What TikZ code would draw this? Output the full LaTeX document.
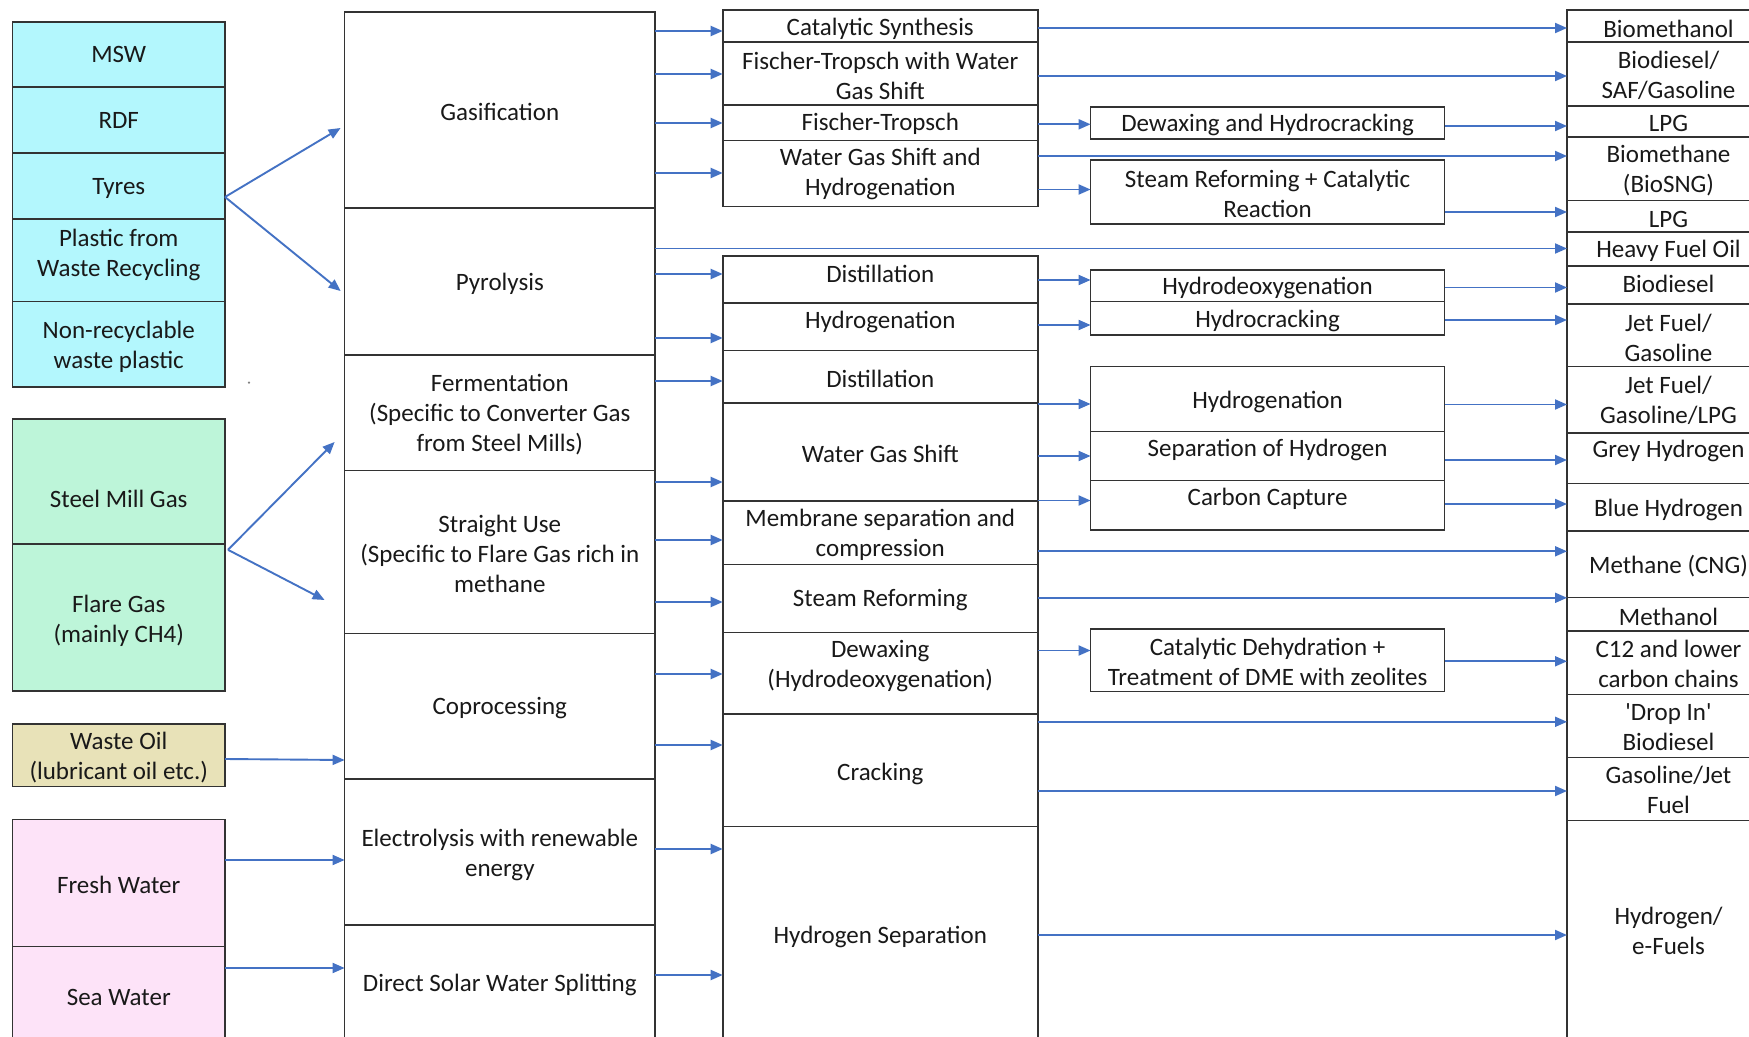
\documentclass[tikz,border=0pt]{standalone}
\usepackage{fontspec}
\setmainfont{Carlito}
\usetikzlibrary{arrows.meta,fit,calc}
\definecolor{cyanf}{HTML}{B3F7FD}
\definecolor{greenf}{HTML}{BDF5D9}
\definecolor{tanf}{HTML}{E8E2B8}
\definecolor{pinkf}{HTML}{FDE3F8}
\definecolor{arrblue}{HTML}{4472C4}
\definecolor{edgec}{HTML}{333333}
\tikzset{
 box/.style={draw=edgec, line width=0.8pt, inner sep=0pt, outer sep=0pt},
 txt/.style={align=center, inner sep=0pt, font=\fontsize{12.5}{15}\selectfont, text=black!90},
 arr/.style={draw=arrblue, line width=0.95pt, -{Triangle[length=6pt,width=5pt]}},
}
\newcommand\bx[8]{\node[box,#6,fit={(#2,#3)(#4,#5)}] (#1) {};\node[txt] at (#1.center |- 0,#7) {#8};}
\begin{document}
\begin{tikzpicture}[x=0.5pt,y=-0.5pt]
\clip (0,0) rectangle (1749,1037);
\fill[white] (0,0) rectangle (1749,1037);
% column 1
\bx{msw}{12.5}{22}{225}{87}{fill=cyanf}{54}{MSW}
\bx{rdf}{12.5}{87}{225}{153.3}{fill=cyanf}{120}{RDF}
\bx{tyres}{12.5}{153.3}{225}{219.3}{fill=cyanf}{188.5}{Tyres}
\bx{plastic}{12.5}{219.3}{225}{301.7}{fill=cyanf}{254.5}{Plastic from\\Waste Recycling}
\bx{nonrec}{12.5}{301.7}{225}{386.7}{fill=cyanf}{347}{Non-recyclable\\waste plastic}
\bx{steel}{12.5}{418.7}{225}{543.8}{fill=greenf}{498.5}{Steel Mill Gas}
\bx{flare}{12.5}{543.8}{225}{690.9}{fill=greenf}{620.5}{Flare Gas\\(mainly CH4)}
\bx{woil}{12.5}{724.2}{225}{786.4}{fill=tanf}{758}{Waste Oil\\(lubricant oil etc.)}
\bx{fresh}{12.5}{819.3}{225}{946.4}{fill=pinkf}{885}{Fresh Water}
\bx{sea}{12.5}{946.4}{225}{1045}{fill=pinkf}{997.5}{Sea Water}
\fill[gray] (249,382.6) circle (1.2);
% column 2
\bx{gas}{344.6}{12}{655}{208}{}{111.5}{Gasification}
\bx{pyro}{344.6}{208}{655}{355}{}{283.5}{Pyrolysis}
\bx{ferm}{344.6}{355}{655}{470.5}{}{415}{Fermentation\\(Specific to Converter Gas\\from Steel Mills)}
\bx{straight}{344.6}{470.5}{655}{633.6}{}{553.5}{Straight Use\\(Specific to Flare Gas rich in\\methane}
\bx{coproc}{344.6}{633.6}{655}{779}{}{708}{Coprocessing}
\bx{electro}{344.6}{779}{655}{925}{}{855}{Electrolysis with renewable\\energy}
\bx{solar}{344.6}{925}{655}{1045}{}{985}{Direct Solar Water Splitting}
% column 3
\bx{cs}{722.7}{10.3}{1037.8}{42.3}{}{28.5}{Catalytic Synthesis}
\bx{ftw}{722.7}{42.3}{1037.8}{105.3}{}{75.5}{Fischer-Tropsch with Water\\Gas Shift}
\bx{ft}{722.7}{105.3}{1037.8}{140.5}{}{123.5}{Fischer-Tropsch}
\bx{wgsh}{722.7}{140.5}{1037.8}{206.7}{}{173.5}{Water Gas Shift and\\Hydrogenation}
\bx{dist}{722.7}{256}{1037.8}{303.3}{}{273.5}{Distillation}
\bx{hydg}{722.7}{303.3}{1037.8}{350.7}{}{322}{Hydrogenation}
\bx{dist2}{722.7}{350.7}{1037.8}{402.7}{}{378.5}{Distillation}
\bx{wgs}{722.7}{402.7}{1037.8}{500.8}{}{453.5}{Water Gas Shift}
\bx{memb}{722.7}{500.8}{1037.8}{564.5}{}{534.5}{Membrane separation and\\compression}
\bx{sr}{722.7}{564.5}{1037.8}{632.4}{}{600}{Steam Reforming}
\bx{dewax}{722.7}{632.4}{1037.8}{714}{}{666}{Dewaxing\\(Hydrodeoxygenation)}
\bx{crack}{722.7}{714}{1037.8}{826.6}{}{773.5}{Cracking}
\bx{hsep}{722.7}{826.6}{1037.8}{1045}{}{936.5}{Hydrogen Separation}
% column 4
\bx{dhc}{1090.6}{107}{1444.5}{139}{}{125}{Dewaxing and Hydrocracking}
\bx{srcr}{1090.6}{160.3}{1444.5}{224}{}{193.5}{Steam Reforming + Catalytic\\Reaction}
\bx{hdo}{1090.6}{270}{1444.5}{301.7}{}{288}{Hydrodeoxygenation}
\bx{hc}{1090.6}{301.7}{1444.5}{335}{}{320.5}{Hydrocracking}
\bx{hydg2}{1090.6}{366.7}{1444.5}{431.3}{}{402}{Hydrogenation}
\bx{seph}{1090.6}{431.3}{1444.5}{480.4}{}{450}{Separation of Hydrogen}
\bx{cc}{1090.6}{480.4}{1444.5}{530}{}{499}{Carbon Capture}
\bx{cdh}{1090.6}{629.1}{1444.5}{691.3}{}{662}{Catalytic Dehydration +\\Treatment of DME with zeolites}
% column 5
\bx{bmeoh}{1567}{10.3}{1770}{42.3}{}{28.5}{Biomethanol}
\bx{bsaf}{1567}{42.3}{1770}{106}{}{75.5}{Biodiesel/\\SAF/Gasoline}
\bx{lpga}{1567}{106}{1770}{137}{}{123}{LPG}
\bx{bsng}{1567}{137}{1770}{200.7}{}{170.5}{Biomethane\\(BioSNG)}
\bx{lpgb}{1567}{200.7}{1770}{232.3}{}{219}{LPG}
\bx{hfo}{1567}{232.3}{1770}{266}{}{250.5}{Heavy Fuel Oil}
\bx{bdsl}{1567}{266}{1770}{304.3}{}{283.5}{Biodiesel}
\bx{jfg}{1567}{304.3}{1770}{366.7}{}{337.5}{Jet Fuel/\\Gasoline}
\bx{jfgl}{1567}{366.7}{1770}{433}{}{400}{Jet Fuel/\\Gasoline/LPG}
\bx{greyh}{1567}{433}{1770}{483.3}{}{451}{Grey Hydrogen}
\bx{blueh}{1567}{483.3}{1770}{530.8}{}{510}{Blue Hydrogen}
\bx{cng}{1567}{530.8}{1770}{597.4}{}{566}{Methane (CNG)}
\bx{meoh}{1567}{597.4}{1770}{630.8}{}{617}{Methanol}
\bx{cchain}{1567}{630.8}{1770}{694.5}{}{663.7}{C12 and lower\\carbon chains}
\bx{dropin}{1567}{694.5}{1770}{757.5}{}{726.7}{\textquotesingle Drop In\textquotesingle\\Biodiesel}
\bx{gjf}{1567}{757.5}{1770}{820.5}{}{790.3}{Gasoline/Jet\\Fuel}
\bx{hefuel}{1567}{820.5}{1770}{1045}{}{930.8}{Hydrogen/\\e-Fuels}
% inputs -> processes
\draw[arr] (tyres.east |- 0,197) -- ($(gas.west |- 0,128)+(-4,0)$);
\draw[arr] (tyres.east |- 0,197) -- ($(pyro.west |- 0,291)+(-4,0)$);
\draw[arr] ($(flare.north east)+(3,6)$) -- ($(ferm.west |- 0,442)+(-10,0)$);
\draw[arr] ($(flare.north east)+(3,6)$) -- ($(straight.west |- 0,600)+(-20,0)$);
\draw[arr] (woil.east |- 0,759) -- (coproc.west |- 0,760);
\draw[arr] (fresh.east |- 0,860) -- (electro.west |- 0,860);
\draw[arr] (sea.east |- 0,968) -- (solar.west |- 0,968);
% processes -> column 3
\draw[arr] (gas.east |- 0,31) -- (cs.west |- 0,31);
\draw[arr] (gas.east |- 0,74) -- (ftw.west |- 0,74);
\draw[arr] (gas.east |- 0,123) -- (ft.west |- 0,123);
\draw[arr] (gas.east |- 0,173) -- (wgsh.west |- 0,173);
\draw[arr] (pyro.east |- 0,248.5) -- (hfo.west |- 0,248.5);
\draw[arr] (pyro.east |- 0,274) -- (dist.west |- 0,274);
\draw[arr] (pyro.east |- 0,338) -- (hydg.west |- 0,338);
\draw[arr] (ferm.east |- 0,381) -- (dist2.west |- 0,381);
\draw[arr] (straight.east |- 0,482) -- (wgs.west |- 0,482);
\draw[arr] (straight.east |- 0,540) -- (memb.west |- 0,540);
\draw[arr] (straight.east |- 0,602) -- (sr.west |- 0,602);
\draw[arr] (coproc.east |- 0,674) -- (dewax.west |- 0,674);
\draw[arr] (coproc.east |- 0,745) -- (crack.west |- 0,745);
\draw[arr] (electro.east |- 0,849) -- (hsep.west |- 0,849);
\draw[arr] (solar.east |- 0,975) -- (hsep.west |- 0,975);
% column 3 -> column 4
\draw[arr] (ft.east |- 0,124.3) -- (dhc.west |- 0,124.3);
\draw[arr] (wgsh.east |- 0,189.5) -- (srcr.west |- 0,189.5);
\draw[arr] (dist.east |- 0,280) -- (hdo.west |- 0,280);
\draw[arr] (hydg.east |- 0,325) -- (hc.west |- 0,325);
\draw[arr] (dist2.east |- 0,404) -- (hydg2.west |- 0,404);
\draw[arr] (wgs.east |- 0,456) -- (seph.west |- 0,456);
\draw[arr] (wgs.east |- 0,500.5) -- (cc.west |- 0,500.5);
\draw[arr] (dewax.east |- 0,650.5) -- (cdh.west |- 0,650.5);
% column 4 -> outputs
\draw[arr] (dhc.east |- 0,126) -- (lpga.west |- 0,126);
\draw[arr] (srcr.east |- 0,212) -- (lpgb.west |- 0,212);
\draw[arr] (hdo.east |- 0,287.5) -- (bdsl.west |- 0,287.5);
\draw[arr] (hc.east |- 0,320) -- (jfg.west |- 0,320);
\draw[arr] (hydg2.east |- 0,404.5) -- (jfgl.west |- 0,404.5);
\draw[arr] (seph.east |- 0,460) -- (greyh.west |- 0,460);
\draw[arr] (cc.east |- 0,504) -- (blueh.west |- 0,504);
\draw[arr] (cdh.east |- 0,661.3) -- (cchain.west |- 0,661.3);
% column 3 -> outputs
\draw[arr] (cs.east |- 0,28) -- (bmeoh.west |- 0,28);
\draw[arr] (ftw.east |- 0,76) -- (bsaf.west |- 0,76);
\draw[arr] (wgsh.east |- 0,156) -- (bsng.west |- 0,156);
\draw[arr] (memb.east |- 0,551.3) -- (cng.west |- 0,551.3);
\draw[arr] (sr.east |- 0,597.8) -- (meoh.west |- 0,597.8);
\draw[arr] (crack.east |- 0,721.8) -- (dropin.west |- 0,721.8);
\draw[arr] (crack.east |- 0,791) -- (gjf.west |- 0,791);
\draw[arr] (hsep.east |- 0,935) -- (hefuel.west |- 0,935);
\end{tikzpicture}
\end{document}
